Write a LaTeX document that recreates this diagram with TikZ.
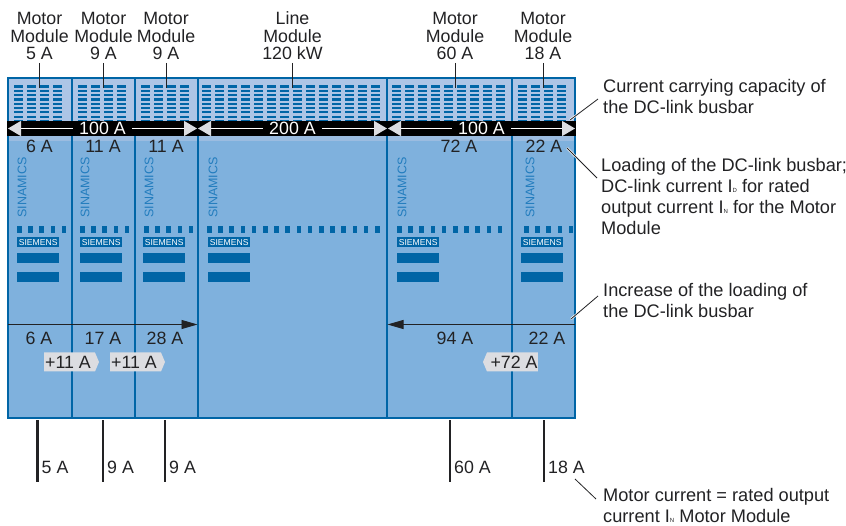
\documentclass[tikz,border=0pt]{standalone}
\usepackage{fontspec}
\setmainfont{Liberation Sans}
\definecolor{body}{RGB}{127,177,221}
\definecolor{vent}{RGB}{173,197,230}
\definecolor{strip}{RGB}{155,188,224}
\definecolor{siemensblue}{RGB}{0,101,166}
\definecolor{sinamicsblue}{RGB}{35,125,190}
\definecolor{tagfill}{RGB}{220,221,225}
\definecolor{ink}{RGB}{34,34,36}
\usetikzlibrary{arrows.meta,shapes.symbols}
\newcommand{\lbl}{\fontsize{17.8}{17.6}\selectfont}
\newcommand{\notelbl}{\fontsize{18.2}{21.2}\selectfont}
\tikzset{
  modulebox/.style={draw=siemensblue, line width=1.5pt},
  toplabel/.style={anchor=south, align=center, inner sep=0pt, text=ink, font=\lbl},
  amplabel/.style={inner sep=0pt, text=ink, font=\lbl},
  cablelabel/.style={anchor=west, inner sep=0pt, text=ink, font=\lbl},
  notelabel/.style={anchor=north west, align=left, inner sep=0pt, text=ink, font=\notelbl},
  leaderline/.style={line width=0.8pt, ink},
  halo/.style={line width=2.2pt, white},
  busarrow/.style={white, line width=1.4pt,
    {Triangle[length=13pt,width=15pt,fill=tagfill,color=tagfill]}-{Triangle[length=13pt,width=15pt,fill=tagfill,color=tagfill]}},
  buslabel/.style={fill=black, text=white, inner xsep=6pt, inner ysep=0pt, font=\lbl},
  loadarrow/.style={line width=0.9pt, ink, -{Triangle[length=16pt,width=9pt]}},
  cableline/.style={line width=2.8pt, ink},
  plustag/.style={shape=signal, fill=tagfill, inner sep=0pt, minimum width=55pt,
    minimum height=19pt, signal pointer angle=134, text=ink, font=\lbl},
  sinamics/.style={rotate=90, anchor=west, inner sep=0pt, text=sinamicsblue, font=\fontsize{12.5}{12}\selectfont},
  siemensbox/.style={anchor=north west, fill=siemensblue, text=white, inner sep=0pt,
    minimum width=42pt, minimum height=10pt, font=\fontsize{8.6}{9}\selectfont}
}
\begin{document}
\begin{tikzpicture}[x=1pt,y=-1pt]
  \useasboundingbox (0,0) rectangle (846,526);
  %% Module bodies
  \foreach \xa/\xb in {8/72,72/135,135/198,198/387,387/512,512/575}{
    \fill[vent] (\xa,78) rectangle (\xb,122);
    \fill[strip] (\xa,135) rectangle (\xb,141);
    \fill[body] (\xa,141) rectangle (\xb,418);
  }
  \foreach \xa/\xb in {8/72,72/135,135/198,198/387,387/512,512/575}{
    \draw[modulebox] (\xa,78) rectangle (\xb,418);
  }
  %% Ventilation slots
  \foreach \xs/\n in {14/3,78/3,141/3,202/13,392/8,518/3}{
    \foreach \k in {0,...,\n}{
      \foreach \r in {0,...,8}{
        \fill[siemensblue] ({\xs+13*\k},{85.5+4.3*\r}) rectangle ++(9,2.2);
      }
    }
  }
  %% Row of dots
  \foreach \xs/\n in {17/4,80/4,144/4,207/15,397/9,524/4}{
    \foreach \k in {0,...,\n}{
      \fill[siemensblue] ({\xs+11.2*\k},226) rectangle ++(4.5,7);
    }
  }
  %% Front panel of each module
  \foreach \xs/\xt/\m in {17/17/a,80/80/b,143/144/c,208/208/d,397/397/e,521/525/f}{
    \node[sinamics] (sin\m) at (\xt+5,218) {SINAMICS};
    \node[siemensbox] (sie\m) at (\xs,237) {SIEMENS};
    \fill[siemensblue] (\xs,253) rectangle ++(42,10);
    \fill[siemensblue] (\xs,272) rectangle ++(42,10);
  }
  %% Busbar
  \fill[black] (7,121) rectangle (576,136);
  \draw[busarrow] (8,128.5) -- node[buslabel] (busa) {100 A} (197,128.5);
  \draw[busarrow] (198,128.5) -- node[buslabel] (busb) {200 A} (387,128.5);
  \draw[busarrow] (388,128.5) -- node[buslabel] (busc) {100 A} (575,128.5);
  %% Top labels with leaders
  \foreach \x/\m/\t in {39.5/a/{Motor\\Module\\5 A},103.5/b/{Motor\\Module\\9 A},166/c/{Motor\\Module\\9 A},292.5/d/{Line\\Module\\120 kW},455/e/{Motor\\Module\\60 A},543/f/{Motor\\Module\\18 A}}{
    \node[toplabel] (top\m) at (\x,60) {\t};
    \coordinate (vent\m) at (\x,88.5);
    \draw[leaderline, shorten <=3pt] (top\m.south) -- (vent\m);
  }
  %% Loading of the busbar
  \node[amplabel] (loada) at (39.5,146) {6 A};
  \node[amplabel] (loadb) at (103,146) {11 A};
  \node[amplabel] (loadc) at (166,146) {11 A};
  \node[amplabel] (loade) at (459,146) {72 A};
  \node[amplabel] (loadf) at (544,146) {22 A};
  %% Increase of the loading
  \coordinate (sumleft) at (8,324.5);
  \coordinate (sumcentreleft) at (197.5,324.5);
  \coordinate (sumright) at (575,324.5);
  \coordinate (sumcentreright) at (387.5,324.5);
  \draw[loadarrow] (sumleft) -- (sumcentreleft);
  \draw[loadarrow] (sumright) -- (sumcentreright);
  \node[amplabel] (suma) at (39,338) {6 A};
  \node[amplabel] (sumb) at (103,338) {17 A};
  \node[amplabel] (sumc) at (165,338) {28 A};
  \node[amplabel] (sume) at (455,338) {94 A};
  \node[amplabel] (sumf) at (547,338) {22 A};
  \node[plustag] (taga) at (69.5,362) {\hspace*{-3pt}+11 A};
  \node[plustag] (tagb) at (135.5,362) {\hspace*{-3pt}+11 A};
  \node[plustag, signal to=west] (tagc) at (512.5,362) {\hspace*{3pt}+72 A};
  %% Motor cables
  \foreach \x/\m/\t in {37.5/a/5 A,103/b/9 A,165/c/9 A,450/e/60 A,544/f/18 A}{
    \coordinate (cabletop\m) at (\x,420);
    \coordinate (cableend\m) at (\x,482);
    \draw[cableline] (cabletop\m) -- (cableend\m);
    \node[cablelabel] (cable\m) at (\x+4,467) {\t};
  }
  %% Notes on the right
  \node[notelabel] (notecapacity) at (603,79) {Current carrying capacity of\\the DC-link busbar};
  \node[notelabel] (noteloading) at (601,158) {Loading of the DC-link busbar;\\DC-link current I{\fontsize{6}{6}\selectfont D} for rated\\output current I{\fontsize{6}{6}\selectfont N} for the Motor\\Module};
  \node[notelabel] (noteincrease) at (603,283) {Increase of the loading of\\the DC-link busbar};
  \node[notelabel] (notemotor) at (603,488) {Motor current = rated output\\current I{\fontsize{6}{6}\selectfont N} Motor Module};
  %% Leaders to the notes
  \coordinate (capacitystart) at (598,99);
  \coordinate (capacityend) at (570,120);
  \coordinate (loadingstart) at (597,178);
  \coordinate (loadingend) at (567,148);
  \coordinate (increasestart) at (598,296);
  \coordinate (increaseend) at (571,319);
  \coordinate (motorstart) at (596,499);
  \coordinate (motorend) at (575,479);
  \draw[halo] (capacitystart) -- (capacityend);
  \draw[leaderline] (capacitystart) -- (capacityend);
  \draw[halo] (loadingstart) -- (loadingend);
  \draw[leaderline] (loadingstart) -- (loadingend);
  \draw[halo] (increasestart) -- (increaseend);
  \draw[leaderline] (increasestart) -- (increaseend);
  \draw[leaderline] (motorstart) -- (motorend);
\end{tikzpicture}
\end{document}
